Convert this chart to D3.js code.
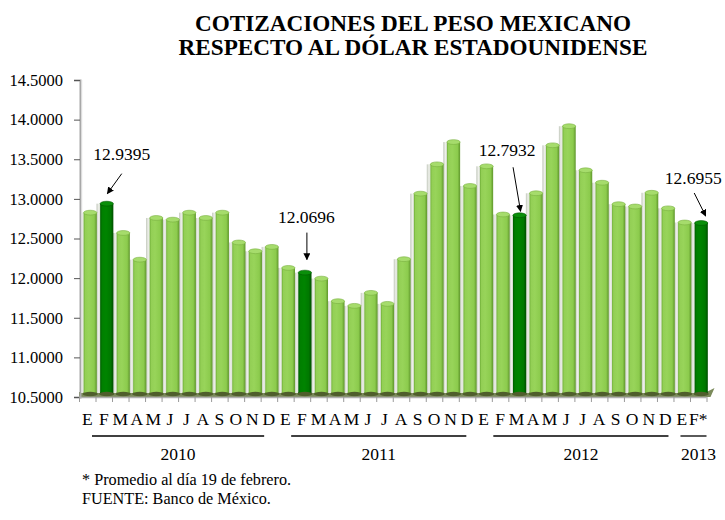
<!DOCTYPE html>
<html>
<head>
<meta charset="utf-8">
<script src="https://cdn.jsdelivr.net/npm/d3@7"></script>
<style>
  html, body { margin: 0; padding: 0; background: #ffffff; }
  svg { display: block; }
  svg text { font-family: "Liberation Serif", "Times New Roman", serif; }
</style>
</head>
<body>
<svg id="chart" width="725" height="520"></svg>
<script>
// Monthly average exchange rate, pesos per US dollar (Jan 2010 - Feb 2013)
const monthLabels = [
  "E","F","M","A","M","J","J","A","S","O","N","D",
  "E","F","M","A","M","J","J","A","S","O","N","D",
  "E","F","M","A","M","J","J","A","S","O","N","D",
  "E","F*"
];
const rates = [
  12.826, 12.9395, 12.570, 12.233, 12.759, 12.738, 12.826, 12.759, 12.826, 12.450, 12.339, 12.394,
  12.129, 12.0696, 11.994, 11.709, 11.650, 11.814, 11.675, 12.239, 13.066, 13.436, 13.717, 13.163,
  13.411, 12.803, 12.7932, 13.071, 13.676, 13.917, 13.361, 13.204, 12.933, 12.904, 13.077, 12.881,
  12.702, 12.6955
];
const years = ["2010", "2011", "2012", "2013"];
const monthsPerYear = [12, 12, 12, 2];
const highlightIndex = [1, 13, 26, 37];
const highlightText = ["12.9395", "12.0696", "12.7932", "12.6955"];
const yTickValues = [10.5, 11.0, 11.5, 12.0, 12.5, 13.0, 13.5, 14.0, 14.5];

const titleLines = ["COTIZACIONES DEL PESO MEXICANO", "RESPECTO AL DÓLAR ESTADOUNIDENSE"];
const notes = ["* Promedio al día 19 de febrero.", "FUENTE: Banco de México."];

const serif = "Liberation Serif, Times New Roman, serif";

// ---- layout ----
const svg = d3.select("#chart");
const plot = { left: 79, right: 706.5, top: 80, bottom: 397 };

const x = d3.scaleBand()
  .domain(d3.range(rates.length))
  .range([plot.left, plot.right])
  .padding(0);
const step = x.step();
const barOffset = step * 0.28;
const barWidth = step * 0.80;

const y = d3.scaleLinear()
  .domain([d3.min(yTickValues), d3.max(yTickValues)])
  .range([plot.bottom, plot.top]);

// ---- gradients for the cylinder look ----
const defs = svg.append("defs");
function cylGradient(id, stops) {
  const g = defs.append("linearGradient").attr("id", id)
    .attr("x1", "0%").attr("x2", "100%").attr("y1", "0%").attr("y2", "0%");
  stops.forEach(s => g.append("stop").attr("offset", s[0]).attr("stop-color", s[1]));
}
cylGradient("gLight", [["0%", "#6fae37"], ["12%", "#93cf55"], ["40%", "#98d45a"], ["80%", "#8ccb4d"], ["100%", "#5f962c"]]);
cylGradient("gDark", [["0%", "#005c00"], ["15%", "#007f00"], ["45%", "#008400"], ["80%", "#007800"], ["100%", "#004e00"]]);
cylGradient("gGap", [["0%", "#c2c8bc"], ["60%", "#eef0ea"], ["100%", "#d6dbd0"]]);

defs.append("marker")
  .attr("id", "arrowHead")
  .attr("viewBox", "0 0 10 10")
  .attr("refX", 9).attr("refY", 5)
  .attr("markerWidth", 7).attr("markerHeight", 7)
  .attr("markerUnits", "userSpaceOnUse")
  .attr("orient", "auto")
  .append("path").attr("d", "M0,0 L10,5 L0,10 Z").attr("fill", "#000");

// ---- floor of the 3D plot ----
svg.append("path")
  .attr("d", `M${plot.left},${plot.bottom - 5} L${plot.right},${plot.bottom - 5} L${plot.right + 8},${plot.bottom - 9} L${plot.right + 4},${plot.bottom} L${plot.left},${plot.bottom} Z`)
  .attr("fill", "#7b8a5b");

// ---- bars ----
const isHi = i => highlightIndex.includes(i);
const bars = svg.append("g").attr("class", "bars");

bars.selectAll("rect.gap")
  .data(rates)
  .join("rect")
  .attr("class", "gap")
  .attr("x", (d, i) => x(i) + 1)
  .attr("width", barOffset - 1)
  .attr("y", d => y(d))
  .attr("height", d => plot.bottom - 4 - y(d))
  .attr("fill", "url(#gGap)");

bars.selectAll("rect.body")
  .data(rates)
  .join("rect")
  .attr("class", "body")
  .attr("x", (d, i) => x(i) + barOffset)
  .attr("width", barWidth)
  .attr("y", d => y(d))
  .attr("height", d => plot.bottom - 3 - y(d))
  .attr("fill", (d, i) => isHi(i) ? "url(#gDark)" : "url(#gLight)");

bars.selectAll("ellipse.base")
  .data(rates)
  .join("ellipse")
  .attr("class", "base")
  .attr("cx", (d, i) => x(i) + barOffset + barWidth / 2)
  .attr("cy", plot.bottom - 3)
  .attr("rx", barWidth / 2 + 1)
  .attr("ry", 2.2)
  .attr("fill", "#4f5e2c");

bars.selectAll("ellipse.cap")
  .data(rates)
  .join("ellipse")
  .attr("class", "cap")
  .attr("cx", (d, i) => x(i) + barOffset + barWidth / 2)
  .attr("cy", d => y(d))
  .attr("rx", barWidth / 2)
  .attr("ry", 2.4)
  .attr("fill", (d, i) => isHi(i) ? "#0a8f0a" : "#a6dc6c")
  .attr("stroke", (d, i) => isHi(i) ? "#005a00" : "#78b040")
  .attr("stroke-width", 0.6);

// ---- y axis ----
const yAxis = svg.append("g")
  .attr("transform", `translate(${plot.left + 1},0)`)
  .call(d3.axisLeft(y).tickValues(yTickValues).tickFormat(d3.format(".4f")).tickSize(6).tickPadding(11))
  .attr("font-family", serif)
  .attr("font-size", 16.5);
yAxis.select(".domain").attr("stroke", "#a8a8a8").attr("stroke-width", 2);
yAxis.selectAll(".tick line").attr("stroke", "#555").attr("stroke-width", 1);
yAxis.selectAll(".tick text").attr("fill", "#000");
svg.append("line")
  .attr("x1", plot.left + 2.6).attr("x2", plot.left + 2.6)
  .attr("y1", plot.top).attr("y2", plot.bottom - 4)
  .attr("stroke", "#dcdcdc").attr("stroke-width", 1.2);

// ---- x axis: boundary ticks + month letters ----
const xAxis = svg.append("g").attr("class", "x-axis");
xAxis.append("line")
  .attr("x1", plot.left).attr("x2", plot.right)
  .attr("y1", plot.bottom + 0.5).attr("y2", plot.bottom + 0.5)
  .attr("stroke", "#b0b0b0").attr("stroke-width", 1.5);
xAxis.selectAll("line.tick")
  .data(d3.range(rates.length + 1))
  .join("line")
  .attr("class", "tick")
  .attr("x1", i => (i < rates.length ? x(i) : plot.right) + 0.5)
  .attr("x2", i => (i < rates.length ? x(i) : plot.right) + 0.5)
  .attr("y1", plot.bottom).attr("y2", plot.bottom + 5)
  .attr("stroke", "#9a9a9a").attr("stroke-width", 1);
xAxis.selectAll("text.month")
  .data(monthLabels)
  .join("text")
  .attr("class", "month")
  .attr("x", (d, i) => x(i) + step / 2)
  .attr("y", 425)
  .attr("text-anchor", "middle")
  .attr("font-size", 17.5)
  .attr("fill", "#000")
  .text(d => d);

// ---- year brackets ----
const yearStart = monthsPerYear.map((n, k) => d3.sum(monthsPerYear.slice(0, k)));
const bracketInset = [[13, 13], [14, 9], [18, 5], [7, 0]];
const yearG = svg.append("g").attr("class", "years");
years.forEach((yr, k) => {
  const x0 = x(yearStart[k]) + bracketInset[k][0];
  const lastIdx = yearStart[k] + monthsPerYear[k] - 1;
  const x1 = x(lastIdx) + step - bracketInset[k][1];
  yearG.append("line")
    .attr("x1", x0).attr("x2", x1)
    .attr("y1", 436).attr("y2", 436)
    .attr("stroke", "#000").attr("stroke-width", 1.3);
  yearG.append("text")
    .attr("x", (x0 + x1) / 2 + (k === 3 ? 5 : 0))
    .attr("y", 460)
    .attr("text-anchor", "middle")
    .attr("font-size", 17.5)
    .attr("fill", "#000")
    .text(yr);
});

// ---- value callouts with arrows ----
// offsets relative to the top of the called-out bar: [label dx, label dy, arrow start dx, dy, arrow end dx, dy]
const calloutOffsets = [
  [15, -44, 15, -30, 0.6, -10],
  [1.5, -50, 2, -40, 2, -13],
  [-12.5, -59, -6.5, -48, 1, -4],
  [-8, -39, -7, -30, 4.5, -7]
];
const callouts = svg.append("g").attr("class", "callouts");
highlightIndex.forEach((idx, k) => {
  const cx = x(idx) + barOffset + barWidth / 2;
  const top = y(rates[idx]);
  const o = calloutOffsets[k];
  callouts.append("text")
    .attr("x", cx + o[0]).attr("y", top + o[1])
    .attr("text-anchor", "middle")
    .attr("font-size", 17.5)
    .attr("fill", "#000")
    .text(highlightText[k]);
  callouts.append("line")
    .attr("x1", cx + o[2]).attr("y1", top + o[3])
    .attr("x2", cx + o[4]).attr("y2", top + o[5])
    .attr("stroke", "#000").attr("stroke-width", 1)
    .attr("marker-end", "url(#arrowHead)");
});

// ---- title ----
svg.append("g").selectAll("text")
  .data(titleLines)
  .join("text")
  .attr("x", 413)
  .attr("y", (d, i) => 31 + i * 23.5)
  .attr("text-anchor", "middle")
  .attr("font-size", 23.2)
  .attr("font-weight", "bold")
  .attr("fill", "#000")
  .text(d => d);

// ---- notes ----
svg.append("g").selectAll("text")
  .data(notes)
  .join("text")
  .attr("x", 82)
  .attr("y", (d, i) => 485 + i * 18.5)
  .attr("font-size", 16.2)
  .attr("fill", "#000")
  .text(d => d);
</script>
</body>
</html>
